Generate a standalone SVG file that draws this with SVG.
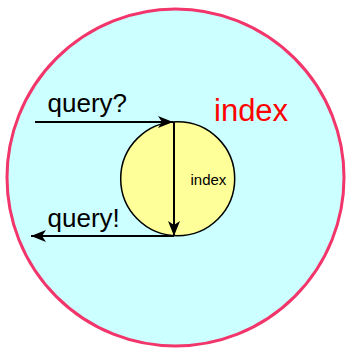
<svg xmlns="http://www.w3.org/2000/svg" width="346" height="350" viewBox="0 0 346 350">
  <style>
    .lbl { font-family: "Liberation Sans", Arial, sans-serif; fill: #000; }
    .edge { stroke: #000; stroke-width: 2; fill: none; marker-end: url(#arrow); }
  </style>
  <defs>
    <marker id="arrow" markerUnits="userSpaceOnUse" markerWidth="16" markerHeight="14" viewBox="0 0 16 14" refX="15" refY="7" orient="auto">
      <path d="M0,1 L15,7 L0,13 L4,7 Z" fill="#000"/>
    </marker>
  </defs>

  <g id="outer-index">
    <circle cx="175.5" cy="177.5" r="168.5" fill="#ccffff" stroke="#f2356a" stroke-width="3"/>
    <text x="214" y="121" font-family="Liberation Sans, Arial, sans-serif" font-size="31" fill="#ff0000">index</text>
  </g>

  <g id="inner-index">
    <circle cx="177.7" cy="178.7" r="57" fill="#ffff99" stroke="#000" stroke-width="1.5"/>
    <text class="lbl" x="190.5" y="184.5" font-size="15">index</text>
  </g>

  <g id="query-in">
    <text class="lbl" x="47.5" y="112" font-size="26">query?</text>
  </g>

  <g id="query-out">
    <text class="lbl" x="47.5" y="227" font-size="26">query!</text>
  </g>

  <g id="connectors">
    <line class="edge" x1="35" y1="122" x2="173" y2="122"/>
    <line class="edge" x1="174" y1="122" x2="174" y2="236"/>
    <line class="edge" x1="174" y1="236" x2="31" y2="236"/>
  </g>
</svg>
